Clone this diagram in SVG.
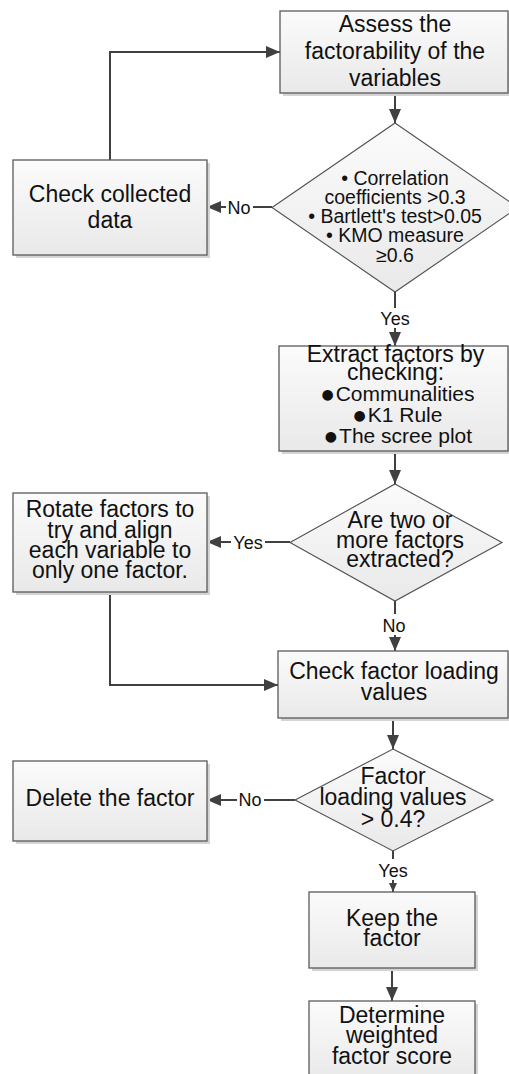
<svg xmlns="http://www.w3.org/2000/svg" width="509" height="1074" viewBox="0 0 509 1074">
  <defs>
    <linearGradient id="fillGrad" x1="0" y1="0" x2="0" y2="1">
      <stop offset="0" stop-color="#fbfbfb"/>
      <stop offset="1" stop-color="#e9e9e9"/>
    </linearGradient>
    <marker id="arrow" viewBox="0 0 14 12" refX="14" refY="6" markerWidth="14" markerHeight="12" markerUnits="userSpaceOnUse" orient="auto">
      <path d="M0,0 L14,6 L0,12 z" fill="#404040"/>
    </marker>
    <marker id="arrowSmall" viewBox="0 0 9 8" refX="9" refY="4" markerWidth="9" markerHeight="8" markerUnits="userSpaceOnUse" orient="auto">
      <path d="M0,0 L9,4 L0,8 z" fill="#404040"/>
    </marker>
  </defs>
  <style>
    .box { fill: url(#fillGrad); stroke: #5a5a5a; stroke-width: 1.3; }
    .shadow { fill: #d4d4d4; }
    .dia { fill: url(#fillGrad); stroke: #505050; stroke-width: 1.1; }
    .t { font-family: "Liberation Sans", Arial, sans-serif; font-size: 23px; fill: #111; text-anchor: middle; }
    .ts { font-family: "Liberation Sans", Arial, sans-serif; font-size: 19.5px; fill: #111; text-anchor: middle; }
    .tb { font-family: "Liberation Sans", Arial, sans-serif; font-size: 21px; fill: #111; text-anchor: middle; }
    .bul { font-family: "DejaVu Sans", sans-serif; font-size: 14px; }
    .lbl { font-family: "Liberation Sans", Arial, sans-serif; font-size: 18px; fill: #111; text-anchor: middle; }
    .conn { fill: none; stroke: #404040; stroke-width: 2; }
    .lblbg { fill: #ffffff; }
  </style>

  <rect width="509" height="1074" fill="#ffffff"/>

  <!-- connectors -->
  <g id="connectors">
    <path class="conn" d="M110,160 V52 H280" marker-end="url(#arrow)"/>
    <path class="conn" d="M395,93 V123" marker-end="url(#arrow)"/>
    <path class="conn" d="M272,207 H207" marker-end="url(#arrow)"/>
    <path class="conn" d="M395,292 V346" marker-end="url(#arrow)"/>
    <path class="conn" d="M395,451 V484" marker-end="url(#arrow)"/>
    <path class="conn" d="M290,542 H207" marker-end="url(#arrow)"/>
    <path class="conn" d="M395,601 V651" marker-end="url(#arrow)"/>
    <path class="conn" d="M110,592 V685 H278" marker-end="url(#arrow)"/>
    <path class="conn" d="M393,718 V749" marker-end="url(#arrow)"/>
    <path class="conn" d="M295,800 H207" marker-end="url(#arrow)"/>
    <path class="conn" d="M393,851 V892" marker-end="url(#arrowSmall)"/>
    <path class="conn" d="M392,968 V1001" marker-end="url(#arrow)"/>

    <rect class="lblbg" x="226" y="199" width="27" height="17"/>
    <text class="lbl" x="239" y="213.5">No</text>
    <rect class="lblbg" x="378" y="308" width="34" height="20"/>
    <text class="lbl" x="395" y="325">Yes</text>
    <rect class="lblbg" x="231" y="534" width="34" height="17"/>
    <text class="lbl" x="248" y="548.5">Yes</text>
    <rect class="lblbg" x="381" y="614" width="27" height="21"/>
    <text class="lbl" x="394" y="631.5">No</text>
    <rect class="lblbg" x="237" y="792" width="27" height="17"/>
    <text class="lbl" x="250" y="806">No</text>
    <rect class="lblbg" x="376" y="859" width="34" height="21"/>
    <text class="lbl" x="393" y="876.5">Yes</text>
  </g>

  <!-- process steps -->
  <g id="assess">
    <rect class="shadow" x="283" y="14" width="228" height="82"/>
    <rect class="box" x="280" y="11" width="228" height="82"/>
    <text class="t" x="395" y="32">Assess the</text>
    <text class="t" x="395" y="59">factorability of the</text>
    <text class="t" x="395" y="86">variables</text>
  </g>

  <g id="check-data">
    <rect class="shadow" x="16" y="163" width="194" height="95"/>
    <rect class="box" x="13" y="160" width="194" height="95"/>
    <text class="t" x="110" y="201.5">Check collected</text>
    <text class="t" x="110" y="228">data</text>
  </g>

  <g id="factorability-test">
    <polygon class="dia" points="395,123 518,207.5 395,292 272,207.5"/>
    <text class="ts" x="395" y="185">• Correlation</text>
    <text class="ts" x="395" y="203.5">coefficients &gt;0.3</text>
    <text class="ts" x="395" y="222.5">• Bartlett's test&gt;0.05</text>
    <text class="ts" x="395" y="241.5">• KMO measure</text>
    <text class="ts" x="395" y="261.5">≥0.6</text>
  </g>

  <g id="extract">
    <rect class="shadow" x="282" y="349" width="229" height="105"/>
    <rect class="box" x="279" y="346" width="229" height="105"/>
    <text class="t" x="395.5" y="361.5">Extract factors by</text>
    <text class="t" x="395.5" y="380">checking:</text>
    <text class="tb" x="398" y="400.5"><tspan class="bul" dy="-2">●</tspan><tspan dx="2" dy="2">Communalities</tspan></text>
    <text class="tb" x="398" y="421.5"><tspan class="bul" dy="-2">●</tspan><tspan dx="2" dy="2">K1 Rule</tspan></text>
    <text class="tb" x="398.5" y="443"><tspan class="bul" dy="-2">●</tspan><tspan dx="2" dy="2">The scree plot</tspan></text>
  </g>

  <g id="two-or-more">
    <polygon class="dia" points="395,484 502,542.5 395,601 290,542.5"/>
    <text class="t" x="400" y="528">Are two or</text>
    <text class="t" x="400" y="548">more factors</text>
    <text class="t" x="400" y="567">extracted?</text>
  </g>

  <g id="rotate">
    <rect class="shadow" x="16" y="496" width="194" height="99"/>
    <rect class="box" x="13" y="493" width="194" height="99"/>
    <text class="t" x="110" y="516.5">Rotate factors to</text>
    <text class="t" x="110" y="537.5">try and align</text>
    <text class="t" x="110" y="557.5">each variable to</text>
    <text class="t" x="110" y="578">only one factor.</text>
  </g>

  <g id="check-loading">
    <rect class="shadow" x="281" y="654" width="230" height="67"/>
    <rect class="box" x="278" y="651" width="230" height="67"/>
    <text class="t" x="394" y="678.5">Check factor loading</text>
    <text class="t" x="394" y="700">values</text>
  </g>

  <g id="loading-test">
    <polygon class="dia" points="393,749 493,800 393,851 295,800"/>
    <text class="t" x="393" y="783.5">Factor</text>
    <text class="t" x="393" y="805">loading values</text>
    <text class="t" x="393" y="827">&gt; 0.4?</text>
  </g>

  <g id="delete">
    <rect class="shadow" x="16" y="764" width="194" height="80"/>
    <rect class="box" x="13" y="761" width="194" height="80"/>
    <text class="t" x="110" y="806">Delete the factor</text>
  </g>

  <g id="keep">
    <rect class="shadow" x="312" y="895" width="166" height="76"/>
    <rect class="box" x="309" y="892" width="166" height="76"/>
    <text class="t" x="392" y="926">Keep the</text>
    <text class="t" x="392" y="946">factor</text>
  </g>

  <g id="weighted-score">
    <rect class="shadow" x="312" y="1004" width="166" height="80"/>
    <rect class="box" x="309" y="1001" width="166" height="80"/>
    <text class="t" x="392" y="1023">Determine</text>
    <text class="t" x="392" y="1043">weighted</text>
    <text class="t" x="392" y="1064">factor score</text>
  </g>
</svg>
